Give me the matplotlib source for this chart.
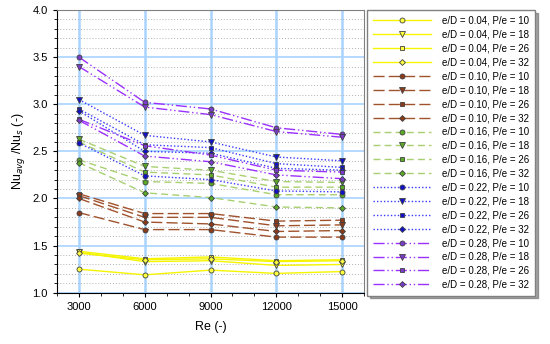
import matplotlib
matplotlib.use('Agg')
import matplotlib.pyplot as plt
from matplotlib.ticker import MultipleLocator

plt.rcParams['font.family'] = ['Liberation Sans', 'DejaVu Sans']

re_vals = [3000, 6000, 9000, 12000, 15000]
eD_vals = ['0.04', '0.10', '0.16', '0.22', '0.28']
Pe_vals = [10, 18, 26, 32]

# Nu_avg/Nu_s, one list per P/e value, grouped by e/D
nu_004 = [[1.25, 1.19, 1.24, 1.205, 1.225],
          [1.43, 1.33, 1.34, 1.29, 1.30],
          [1.44, 1.36, 1.38, 1.34, 1.35],
          [1.42, 1.35, 1.36, 1.33, 1.34]]
nu_010 = [[1.85, 1.67, 1.67, 1.59, 1.59],
          [2.03, 1.80, 1.80, 1.71, 1.72],
          [2.05, 1.84, 1.84, 1.76, 1.77],
          [2.00, 1.75, 1.73, 1.65, 1.66]]
nu_016 = [[2.41, 2.18, 2.16, 2.04, 2.04],
          [2.63, 2.34, 2.30, 2.18, 2.17],
          [2.60, 2.28, 2.25, 2.12, 2.12],
          [2.38, 2.06, 2.01, 1.91, 1.90]]
nu_022 = [[2.59, 2.24, 2.20, 2.08, 2.07],
          [3.05, 2.67, 2.60, 2.44, 2.40],
          [2.95, 2.57, 2.54, 2.37, 2.33],
          [2.93, 2.50, 2.48, 2.32, 2.30]]
nu_028 = [[3.50, 3.02, 2.95, 2.75, 2.68],
          [3.40, 2.97, 2.89, 2.71, 2.65],
          [2.84, 2.56, 2.46, 2.30, 2.28],
          [2.83, 2.45, 2.39, 2.25, 2.21]]
all_data = [nu_004, nu_010, nu_016, nu_022, nu_028]

line_colors = ['#f5f500', '#a0522d', '#a8d070', '#3a3aff', '#9b30ff']
marker_colors = ['#ffff40', '#8b3a1a', '#5aaa28', '#1010c8', '#7a3cc8']
line_styles = ['-', (0, (8, 3)), (0, (5, 3)), (0, (1, 1.5)), (0, (8, 2, 1, 2, 1, 2))]
markers = ['o', 'v', 's', 'D']
msizes = [3.6, 3.8, 3.4, 3.0]

fig = plt.figure(figsize=(5.5, 3.44), dpi=100)
ax = fig.add_axes([0.1036, 0.149, 0.5584, 0.822])

for i, eD in enumerate(eD_vals):
    for j, pe in enumerate(Pe_vals):
        ax.plot(re_vals, all_data[i][j], linestyle=line_styles[i], color=line_colors[i],
                lw=1.0, marker=markers[j], ms=msizes[j], mfc=marker_colors[i],
                mec='#404040', mew=0.6,
                label='e/D = %s, P/e = %d' % (eD, pe))

ax.set_xlim(2000, 16000)
ax.set_ylim(1.0, 4.0)
ax.set_xticks(re_vals)
ax.xaxis.set_minor_locator(MultipleLocator(1000))
ax.yaxis.set_major_locator(MultipleLocator(0.5))
ax.yaxis.set_minor_locator(MultipleLocator(0.1))
ax.grid(which='minor', axis='y', color='#b0b0b0', linestyle=(0, (1, 2)), lw=0.7)
ax.grid(which='major', axis='y', color='#a8d4ff', lw=1.2)
ax.grid(which='major', axis='x', color='#a8d4ff', lw=1.8)
ax.set_axisbelow(True)
ax.tick_params(labelsize=8, direction='out', length=3)
ax.tick_params(which='minor', length=2)
ax.yaxis.set_major_formatter(matplotlib.ticker.FormatStrFormatter('%.1f'))
for s in ['top', 'right']:
    ax.spines[s].set_color('#808080')
ax.set_xlabel('Re (-)', fontsize=9, labelpad=7)
ax.set_ylabel(r'Nu$_{avg}$ /Nu$_{s}$ (-)', fontsize=9)

handles, labels = ax.get_legend_handles_labels()
leg = fig.legend(handles, labels, loc='upper left', bbox_to_anchor=(0.667, 0.971),
                 borderaxespad=0, fontsize=7, frameon=True, fancybox=False, shadow=True,
                 labelspacing=0.4, handlelength=6.0, handletextpad=1.1, borderpad=0.6)
leg.get_frame().set_edgecolor('#808080')

fig.savefig('out.png', dpi=100)
